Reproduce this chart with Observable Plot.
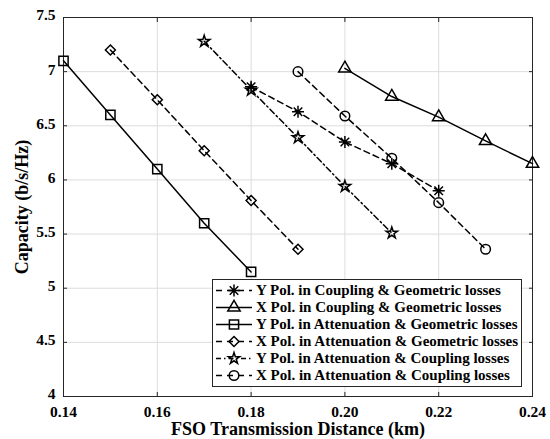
<!DOCTYPE html>
<html>
<head>
<meta charset="utf-8">
<script src="https://cdn.jsdelivr.net/npm/d3@7"></script>
<script src="https://cdn.jsdelivr.net/npm/@observablehq/plot@0.6"></script>
<style>
  html, body { margin: 0; padding: 0; background: #fff; }
  #chart { position: relative; width: 550px; height: 439px; }
  #legend {
    position: absolute; left: 212px; top: 279px; width: 308px; height: 104px;
    border: 1px solid #262626; background: #fff; box-sizing: content-box;
    font-family: "Liberation Serif", "Times New Roman", serif; font-weight: bold; font-size: 15px;
    padding-top: 2px;
  }
  .row { display: flex; align-items: center; height: 17px; }
  .row svg { flex: none; margin-left: 2px; }
  .row span { margin-left: 3px; white-space: nowrap; color: #000; }
</style>
</head>
<body>
<div id="chart"></div>
<script>
// Transmission distances (km)
const distY_CG = [0.18, 0.19, 0.20, 0.21, 0.22];
const distX_CG = [0.20, 0.21, 0.22, 0.23, 0.24];
const distY_AG = [0.14, 0.15, 0.16, 0.17, 0.18];
const distX_AG = [0.15, 0.16, 0.17, 0.18, 0.19];
const distY_AC = [0.17, 0.18, 0.19, 0.20, 0.21];
const distX_AC = [0.19, 0.20, 0.21, 0.22, 0.23];

// Capacity (b/s/Hz)
const capY_CG = [6.86, 6.63, 6.35, 6.15, 5.90];
const capX_CG = [7.03, 6.77, 6.58, 6.36, 6.15];
const capY_AG = [7.10, 6.60, 6.10, 5.60, 5.15];
const capX_AG = [7.20, 6.74, 6.27, 5.81, 5.36];
const capY_AC = [7.28, 6.83, 6.39, 5.94, 5.51];
const capX_AC = [7.00, 6.59, 6.20, 5.79, 5.36];

const seriesNames = [
  "Y Pol. in Coupling & Geometric losses",
  "X Pol. in Coupling & Geometric losses",
  "Y Pol. in Attenuation & Geometric losses",
  "X Pol. in Attenuation & Geometric losses",
  "Y Pol. in Attenuation & Coupling losses",
  "X Pol. in Attenuation & Coupling losses"
];

const xTicks = [0.14, 0.16, 0.18, 0.20, 0.22, 0.24];
const yTicks = [4, 4.5, 5, 5.5, 6, 6.5, 7, 7.5];

const FONT = "'Liberation Serif', 'Times New Roman', serif";
const DASH = "6,4";
const DASHDOT = "6,3,1.5,3";

// Eight-armed asterisk marker (a plus overlaid on a cross)
const asterisk8 = {
  draw(context, size) {
    const r = Math.sqrt(size) * 0.62;
    const d = r * Math.SQRT1_2;
    context.moveTo(0, -r); context.lineTo(0, r);
    context.moveTo(-r, 0); context.lineTo(r, 0);
    context.moveTo(-d, -d); context.lineTo(d, d);
    context.moveTo(-d, d); context.lineTo(d, -d);
  }
};

const series = [
  {name: seriesNames[0], xs: distY_CG, ys: capY_CG, symbol: asterisk8, dash: DASH, r: 5.5},
  {name: seriesNames[1], xs: distX_CG, ys: capX_CG, symbol: d3.symbolTriangle, dash: null, r: 4.6},
  {name: seriesNames[2], xs: distY_AG, ys: capY_AG, symbol: d3.symbolSquare, dash: null, r: 5.2},
  {name: seriesNames[3], xs: distX_AG, ys: capX_AG, symbol: d3.symbolDiamond2, dash: DASH, r: 4.5},
  {name: seriesNames[4], xs: distY_AC, ys: capY_AC, symbol: d3.symbolStar, dash: DASHDOT, r: 3.6},
  {name: seriesNames[5], xs: distX_AC, ys: capX_AC, symbol: d3.symbolCircle, dash: DASH, r: 4.8}
];

const rows = s => s.xs.map((x, i) => ({x, y: s.ys[i]}));

const marks = [
  Plot.gridX(xTicks, {stroke: "#dcdcdc", strokeOpacity: 1, strokeWidth: 1}),
  Plot.gridY(yTicks, {stroke: "#dcdcdc", strokeOpacity: 1, strokeWidth: 1}),
  Plot.axisX(xTicks, {tickSize: 0, tickPadding: 9, tickFormat: d => d.toFixed(2),
    label: "FSO Transmission Distance (km)", labelAnchor: "center", labelArrow: "none", labelOffset: 38}),
  Plot.axisY(yTicks, {tickSize: 0, tickPadding: 8, dy: -2, tickFormat: d => String(d),
    label: "Capacity (b/s/Hz)", labelAnchor: "center", labelArrow: "none", labelOffset: 48}),
  Plot.axisX(xTicks, {anchor: "bottom", tickSize: -4, stroke: "#262626", text: null, label: null}),
  Plot.axisX(xTicks, {anchor: "top", tickSize: -4, stroke: "#262626", text: null, label: null}),
  Plot.axisY(yTicks, {anchor: "left", tickSize: -4, stroke: "#262626", text: null, label: null}),
  Plot.axisY(yTicks, {anchor: "right", tickSize: -4, stroke: "#262626", text: null, label: null}),
  Plot.frame({stroke: "#262626", strokeWidth: 1})
];

for (const s of series) {
  marks.push(Plot.line(rows(s), {x: "x", y: "y", stroke: "black", strokeWidth: 1.5,
    strokeDasharray: s.dash || undefined}));
  marks.push(Plot.dot(rows(s), {x: "x", y: "y", symbol: () => s.symbol, r: s.r,
    stroke: "black", strokeWidth: 1.5, fill: "none"}));
}

const chart = Plot.plot({
  width: 550,
  height: 439,
  marginLeft: 63,
  marginRight: 18,
  marginTop: 17,
  marginBottom: 43,
  style: {fontFamily: FONT, fontWeight: "bold", fontSize: "15.5px", color: "#000", background: "white"},
  x: {domain: [0.14, 0.24]},
  y: {domain: [4, 7.5]},
  symbol: {type: "identity"},
  marks
});

d3.select(chart).selectAll("text").style("font-family", FONT);
// Axis title sizes
d3.select(chart).selectAll("g[aria-label='x-axis label'] text, g[aria-label='y-axis label'] text")
  .style("font-size", "18px");

const root = document.getElementById("chart");
root.appendChild(chart);

// Legend box in the lower right of the axes
const legend = d3.select(root).append("div").attr("id", "legend");
for (const s of series) {
  const row = legend.append("div").attr("class", "row");
  const svg = row.append("svg").attr("width", 38).attr("height", 17);
  svg.append("line").attr("x1", 1).attr("x2", 37).attr("y1", 8.5).attr("y2", 8.5)
    .attr("stroke", "black").attr("stroke-width", 1.5)
    .attr("stroke-dasharray", s.dash ? (s.dash === DASHDOT ? "5,3,1.5,3" : "6,5") : null);
  svg.append("path").attr("transform", "translate(19,8.5)")
    .attr("d", d3.symbol(s.symbol, Math.PI * s.r * s.r)())
    .attr("fill", "none")
    .attr("stroke", "black").attr("stroke-width", 1.5);
  row.append("span").text(s.name);
}
</script>
</body>
</html>
